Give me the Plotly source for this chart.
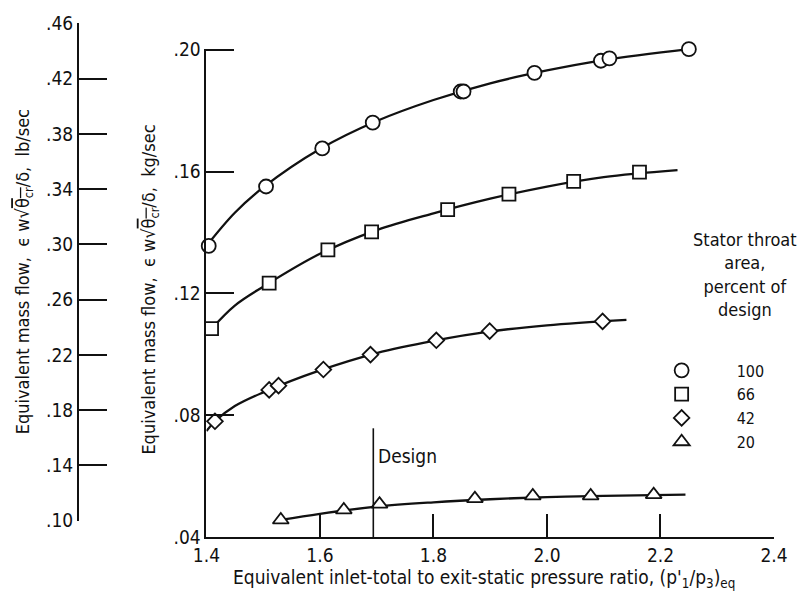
import plotly.graph_objects as go

KG_PER_LB = 0.45359237

# Test points: equivalent inlet-total to exit-static pressure ratio and
# equivalent mass flow (kg/sec), one set per stator throat area
pr_100 = [1.404, 1.505, 1.604, 1.693, 1.848, 1.853, 1.978, 2.095, 2.110, 2.250]
wf_100 = [0.1356, 0.1551, 0.1676, 0.1761, 0.1863, 0.1863, 0.1924, 0.1964, 0.1972, 0.2002]

pr_66 = [1.409, 1.5105, 1.614, 1.691, 1.825, 1.933, 2.047, 2.163]
wf_66 = [0.1084, 0.1234, 0.1343, 0.1402, 0.1475, 0.1526, 0.1568, 0.1598]

pr_42 = [1.415, 1.5105, 1.527, 1.606, 1.689, 1.805, 1.899, 2.098]
wf_42 = [0.0780, 0.0883, 0.0897, 0.0950, 0.0999, 0.1046, 0.1076, 0.1108]

pr_20 = [1.531, 1.642, 1.705, 1.873, 1.975, 2.077, 2.188]
wf_20 = [0.0456, 0.0489, 0.0508, 0.0526, 0.0535, 0.0535, 0.0539]

# Faired curves drawn through each set of points
fair_pr_100 = [1.40, 1.45, 1.50, 1.60, 1.70, 1.80, 1.90, 2.00, 2.10, 2.25]
fair_wf_100 = [0.1356, 0.1465, 0.1548, 0.1674, 0.1766, 0.1835, 0.1890, 0.1932, 0.1966, 0.2002]

fair_pr_66 = [1.409, 1.45, 1.50, 1.60, 1.70, 1.80, 1.90, 2.00, 2.10, 2.23]
fair_wf_66 = [0.1084, 0.1160, 0.1222, 0.1330, 0.1408, 0.1463, 0.1511, 0.1551, 0.1582, 0.1605]

fair_pr_42 = [1.40, 1.415, 1.45, 1.50, 1.60, 1.70, 1.80, 1.90, 2.00, 2.14]
fair_wf_42 = [0.0748, 0.0780, 0.0830, 0.0875, 0.0947, 0.1004, 0.1044, 0.1075, 0.1095, 0.1113]

fair_pr_20 = [1.531, 1.60, 1.70, 1.80, 1.90, 2.00, 2.10, 2.244]
fair_wf_20 = [0.0456, 0.0476, 0.0500, 0.0514, 0.0524, 0.0531, 0.0535, 0.0539]

# Design pressure ratio marker
design_pr = [1.694, 1.694]
design_wf = [0.04, 0.0757]

area_labels = ["100", "66", "42", "20"]

x_tickvals = [1.4, 1.6, 1.8, 2.0, 2.2, 2.4]
x_ticktext = ["1.4", "1.6", "1.8", "2.0", "2.2", "2.4"]
kg_tickvals = [0.04, 0.08, 0.12, 0.16, 0.20]
kg_ticktext = [".04", ".08", ".12", ".16", ".20"]
lb_tickvals = [0.10, 0.14, 0.18, 0.22, 0.26, 0.30, 0.34, 0.38, 0.42, 0.46]
lb_ticktext = [".10", ".14", ".18", ".22", ".26", ".30", ".34", ".38", ".42", ".46"]

# ---- page geometry (pixels) ----
W, H = 800, 598
M_L, M_R, M_T, M_B = 78, 23, 19, 61
PW = W - M_L - M_R
PH = H - M_T - M_B


def fx(px):
    return (px - M_L) / PW


def fy(py):
    return (H - M_B - py) / PH


# kg/sec scale: .04 on the x axis, .20 at 46 px from the top; a small
# headroom above .20 keeps the topmost point inside the axis range
KG_LO, KG_TICK_HI, KG_HI = 0.04, 0.20, 0.2004
kg_scale = fy(46) / (KG_TICK_HI - KG_LO)          # paper fraction per kg/sec
kg_top = (KG_HI - KG_LO) * kg_scale
lb_lo, lb_hi = 0.10, 0.46
lb_dom = [(lb_lo * KG_PER_LB - KG_LO) * kg_scale,
          (lb_hi * KG_PER_LB - KG_LO) * kg_scale]

FONT = "DejaVu Sans Condensed, Liberation Sans Narrow, Roboto Condensed, sans-serif"
INK = "#111111"
FS = 19

fig = go.Figure()

# empty trace so the lb/sec scale is laid out (drawn first, underneath)
fig.add_trace(go.Scatter(x=[None], y=[None], xaxis="x", yaxis="y2",
                         showlegend=False, hoverinfo="skip"))

series = [
    (pr_100, wf_100, fair_pr_100, fair_wf_100, "circle", 14),
    (pr_66, wf_66, fair_pr_66, fair_wf_66, "square", 13),
    (pr_42, wf_42, fair_pr_42, fair_wf_42, "diamond", 12),
    (pr_20, wf_20, fair_pr_20, fair_wf_20, "triangle-up", 14),
]

for (px_, wf_, fpx, fwf, sym, size) in series:
    fig.add_trace(go.Scatter(
        x=fpx, y=fwf, mode="lines",
        line=dict(color=INK, width=2.3, shape="spline", smoothing=1.0),
        showlegend=False, hoverinfo="skip", cliponaxis=False,
    ))

for (px_, wf_, fpx, fwf, sym, size), name in zip(series, area_labels):
    fig.add_trace(go.Scatter(
        x=px_, y=wf_, mode="markers", name=name,
        marker=dict(symbol=sym, size=size, color="white",
                    line=dict(color=INK, width=1.8)),
        cliponaxis=False,
    ))

fig.add_trace(go.Scatter(
    x=design_pr, y=design_wf, mode="lines",
    line=dict(color=INK, width=1.6), showlegend=False, hoverinfo="skip",
))

axis_common = dict(
    showline=True, linecolor=INK, linewidth=2,
    ticks="inside", tickcolor=INK, tickwidth=2,
    showgrid=False, zeroline=False,
    tickfont=dict(family=FONT, size=FS, color=INK),
)

fig.update_layout(
    width=W, height=H,
    margin=dict(l=M_L, r=M_R, t=M_T, b=M_B, pad=0),
    paper_bgcolor="white", plot_bgcolor="rgba(0,0,0,0)",
    font=dict(family=FONT, size=FS, color=INK),
    xaxis=dict(domain=[fx(207), 1], range=[1.4, 2.4],
               tickmode="array", tickvals=x_tickvals, ticktext=x_ticktext,
               ticklen=23, anchor="y", **axis_common),
    yaxis=dict(domain=[0, kg_top], range=[KG_LO, KG_HI],
               tickmode="array", tickvals=kg_tickvals, ticktext=kg_ticktext,
               ticklen=28, anchor="x", **axis_common),
    yaxis2=dict(domain=lb_dom, range=[lb_lo, lb_hi], anchor="free", position=0,
                tickmode="array", tickvals=lb_tickvals, ticktext=lb_ticktext,
                ticklen=28, **axis_common),
    legend=dict(x=fx(629), y=fy(352), xanchor="left", yanchor="top",
                itemwidth=100, bgcolor="rgba(0,0,0,0)",
                font=dict(family=FONT, size=16, color=INK)),
    showlegend=True,
)

root = "\u03f5 w\u221a<span style='text-decoration:overline'>\u03b8<sub>cr</sub></span>/\u03b4"
ann = dict(showarrow=False, xref="paper", yref="paper")

fig.add_annotation(text="Equivalent mass flow,\u00a0\u00a0" + root + ",\u00a0\u00a0kg/sec",
                   x=fx(150), y=fy(288), textangle=-90,
                   xanchor="center", yanchor="middle",
                   font=dict(family=FONT, size=18, color=INK), **ann)
fig.add_annotation(text="Equivalent mass flow,\u00a0\u00a0" + root + ",\u00a0\u00a0lb/sec",
                   x=fx(24), y=fy(270), textangle=-90,
                   xanchor="center", yanchor="middle",
                   font=dict(family=FONT, size=18, color=INK), **ann)
fig.add_annotation(text="Equivalent inlet-total to exit-static pressure ratio, "
                        "(p'<sub>1</sub>/p<sub>3</sub>)<sub>eq</sub>",
                   x=fx(486), y=fy(579), xanchor="center", yanchor="middle",
                   font=dict(family=FONT, size=FS, color=INK), **ann)
fig.add_annotation(text="Design", x=fx(377), y=fy(455),
                   xanchor="left", yanchor="middle",
                   font=dict(family=FONT, size=FS, color=INK), **ann)
fig.add_annotation(text="Stator throat<br>area,<br>percent of<br>design",
                   x=fx(748), y=fy(272), xanchor="center", yanchor="middle",
                   align="center", font=dict(family=FONT, size=18, color=INK), **ann)

fig.write_html("out.html")
